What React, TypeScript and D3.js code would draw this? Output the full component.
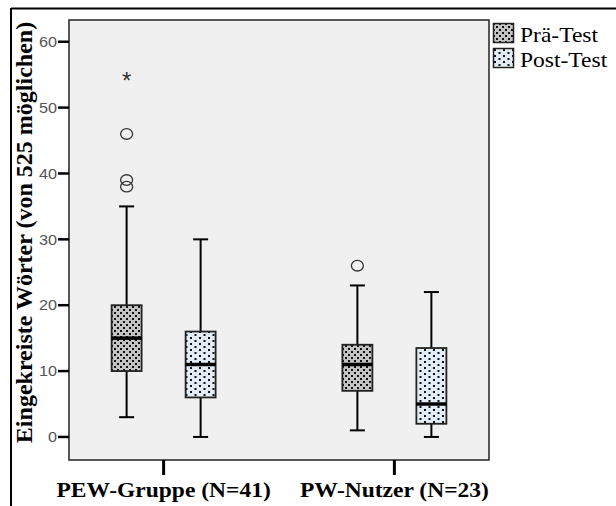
import * as d3 from 'd3'

// Gruppen und Messzeitpunkte
const groups = ['PEW-Gruppe (N=41)', 'PW-Nutzer (N=23)']
const series = ['Prä-Test', 'Post-Test']

// Boxplot-Kennwerte je Gruppe, Reihenfolge wie series
const lowWhisker = [[3, 0], [1, 0]]
const q1 = [[10, 6], [7, 2]]
const median = [[15, 11], [11, 5]]
const q3 = [[20, 16], [14, 13.5]]
const highWhisker = [[35, 30], [23, 22]]
const outliers = [[[38, 39, 46], []], [[26], []]]
const extremes = [[[55], []], [[], []]]

const yTicks = [0, 10, 20, 30, 40, 50, 60]

const W = 616
const H = 506
const plot = { left: 69, top: 20, right: 489, bottom: 460 }
const serif = "'Liberation Serif', 'Times New Roman', 'DejaVu Serif', serif"
const sans = "'Liberation Sans', Arial, sans-serif"
// the source image is a little wider than tall, so the text is stretched
const stretch = 1.12

export default function App() {
  const y = d3.scaleLinear().domain([-3.5, 63.3]).range([plot.bottom, plot.top])
  const x = d3
    .scalePoint<string>()
    .domain(groups)
    .range([plot.left, plot.right])
    .padding(0.41)
  const offset = d3.scalePoint<string>().domain(series).range([-37, 37])
  const boxW = 30
  const capW = 15
  const fills = ['url(#pre)', 'url(#post)']

  return (
    <svg
      width={W}
      height={H}
      style={{ position: 'absolute', left: 0, top: 0, background: '#fff' }}
    >
      <defs>
        <pattern id="pre" width={6} height={6} patternUnits="userSpaceOnUse">
          <rect width={6} height={6} fill="#c4c4c4" />
          <rect x={0} y={0} width={2} height={2} fill="#111" />
          <rect x={3} y={3} width={2} height={2} fill="#111" />
        </pattern>
        <pattern id="post" width={9} height={6} patternUnits="userSpaceOnUse">
          <rect width={9} height={6} fill="#e3edf8" />
          <rect x={1} y={1} width={2} height={2} fill="#111" />
          <rect x={5.5} y={4} width={2} height={2} fill="#111" />
        </pattern>
      </defs>

      {/* outer frame */}
      <line x1={11} x2={W} y1={8.5} y2={8.5} stroke="#000" strokeWidth={2} />
      <line x1={11} x2={11} y1={8} y2={H} stroke="#000" strokeWidth={2} />

      <rect
        x={plot.left}
        y={plot.top}
        width={plot.right - plot.left}
        height={plot.bottom - plot.top}
        fill="#f0f0f0"
        stroke="#222"
        strokeWidth={1.5}
      />

      {/* y axis */}
      {yTicks.map((t) => (
        <g key={t}>
          <line x1={58} x2={plot.left} y1={y(t)} y2={y(t)} stroke="#000" strokeWidth={2.5} />
          <text
            transform={`translate(57,${y(t)}) scale(${stretch},1)`}
            dy="0.36em"
            textAnchor="end"
            style={{ fontFamily: sans }}
            fontSize={14.5}
            fill="#555"
          >
            {t}
          </text>
        </g>
      ))}
      <text
        transform={`translate(32,${(20 + 445) / 2}) rotate(-90)`}
        textAnchor="middle"
        style={{ fontFamily: serif }}
        fontWeight="bold"
        fontSize={24}
        fill="#000"
      >
        Eingekreiste Wörter (von 525 möglichen)
      </text>

      {/* x axis */}
      {groups.map((g) => (
        <g key={g}>
          <line x1={x(g)} x2={x(g)} y1={plot.bottom} y2={475} stroke="#000" strokeWidth={3} />
          <text
            transform={`translate(${x(g)},497) scale(${stretch},1)`}
            textAnchor="middle"
            style={{ fontFamily: serif }}
            fontWeight="bold"
            fontSize={21}
            fill="#000"
          >
            {g}
          </text>
        </g>
      ))}

      {/* boxes */}
      {groups.map((g, gi) =>
        series.map((s, si) => {
          const cx = x(g)! + offset(s)!
          return (
            <g key={g + s}>
              <line x1={cx} x2={cx} y1={y(highWhisker[gi][si])} y2={y(q3[gi][si])} stroke="#000" strokeWidth={2} />
              <line x1={cx} x2={cx} y1={y(q1[gi][si])} y2={y(lowWhisker[gi][si])} stroke="#000" strokeWidth={2} />
              <line x1={cx - capW / 2} x2={cx + capW / 2} y1={y(highWhisker[gi][si])} y2={y(highWhisker[gi][si])} stroke="#000" strokeWidth={2} />
              <line x1={cx - capW / 2} x2={cx + capW / 2} y1={y(lowWhisker[gi][si])} y2={y(lowWhisker[gi][si])} stroke="#000" strokeWidth={2} />
              <rect
                x={cx - boxW / 2}
                y={y(q3[gi][si])}
                width={boxW}
                height={y(q1[gi][si]) - y(q3[gi][si])}
                fill={fills[si]}
                stroke="#222"
                strokeWidth={1.8}
              />
              <line x1={cx - boxW / 2} x2={cx + boxW / 2} y1={y(median[gi][si])} y2={y(median[gi][si])} stroke="#000" strokeWidth={3.5} />
              {outliers[gi][si].map((v) => (
                <ellipse key={v} cx={cx} cy={y(v)} rx={6} ry={5.3} fill="none" stroke="#333" strokeWidth={1.3} />
              ))}
              {extremes[gi][si].map((v) => (
                <text
                  key={v}
                  x={cx}
                  y={y(v)}
                  dy="0.6em"
                  textAnchor="middle"
                  style={{ fontFamily: sans }}
                  fontSize={24}
                  fill="#333"
                >
                  *
                </text>
              ))}
            </g>
          )
        })
      )}

      {/* legend */}
      {series.map((s, si) => (
        <g key={s} transform={`translate(493,${23 + si * 25})`}>
          <rect x={0.5} y={0.5} width={20} height={19} fill={fills[si]} stroke="#222" strokeWidth={1.5} />
          <text
            transform={`translate(27,19) scale(${stretch},1)`}
            style={{ fontFamily: serif }}
            fontSize={21}
            fill="#000"
          >
            {s}
          </text>
        </g>
      ))}
    </svg>
  )
}
